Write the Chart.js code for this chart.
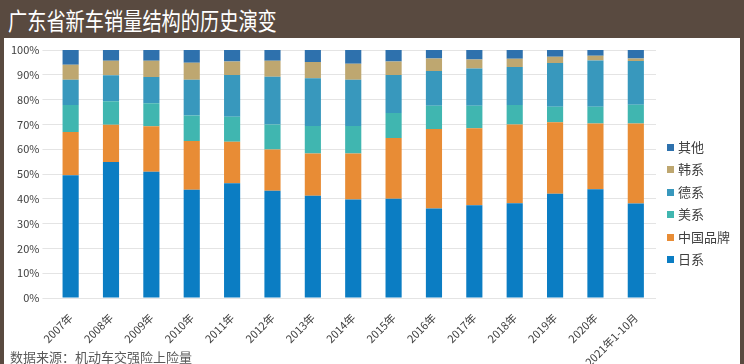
<!DOCTYPE html>
<html>
<head>
<meta charset="utf-8">
<script src="https://cdn.jsdelivr.net/npm/chart.js@4/dist/chart.umd.min.js"></script>
<style>
  body { margin: 0; width: 744px; height: 364px; background: #594a40; overflow: hidden; position: relative; font-family: "Noto Sans CJK SC", sans-serif; }
  #title { position: absolute; left: 8px; top: 4px; height: 32px; line-height: 32px; color: #fff; font-size: 24px; transform: scaleX(0.8); transform-origin: left center; white-space: nowrap; }
  #panel { position: absolute; left: 4px; top: 38px; width: 736px; height: 326px; background: #fff; overflow: hidden; }
  #chart { position: absolute; left: 0; top: 0; }
  #source { position: absolute; left: 6px; bottom: -2px; font-size: 13px; color: #595959; }
  #legend { position: absolute; left: 663px; top: 98px; margin: 0; padding: 0; list-style: none; }
  #legend li { height: 22.4px; line-height: 22.4px; font-size: 13px; color: #404040; white-space: nowrap; }
  #legend span { display: inline-block; width: 7px; height: 7px; margin-right: 4px; vertical-align: middle; position: relative; top: -1px; }
</style>
</head>
<body>
<div id="title">广东省新车销量结构的历史演变</div>
<div id="panel">
  <canvas id="chart" width="736" height="352"></canvas>
  <ul id="legend"></ul>
  <div id="source">数据来源：机动车交强险上险量</div>
</div>
<script>
var years = ["2007年","2008年","2009年","2010年","2011年","2012年","2013年","2014年","2015年","2016年","2017年","2018年","2019年","2020年","2021年1-10月"];

var japan   = [49.5, 54.8, 50.9, 43.6, 46.3, 43.2, 41.2, 39.7, 40.0, 36.1, 37.4, 38.2, 42.0, 43.9, 38.1];
var china   = [17.4, 15.1, 18.4, 19.7, 16.7, 16.7, 17.1, 18.6, 24.5, 32.0, 31.0, 31.8, 28.9, 26.5, 32.3];
var america = [10.9,  9.4,  9.2, 10.3, 10.1, 10.1, 11.1, 11.1, 10.1,  9.4,  9.1,  7.8,  6.2,  6.7,  7.5];
var germany = [10.2, 10.5, 10.6, 14.4, 16.8, 19.2, 19.2, 18.6, 15.3, 14.0, 15.0, 15.3, 17.7, 18.7, 17.7];
var korea   = [ 6.1,  5.9,  6.6,  6.9,  5.5,  6.5,  6.6,  6.5,  5.5,  5.1,  3.7,  3.4,  2.5,  1.9,  1.0];
var other   = [ 5.9,  4.3,  4.3,  5.1,  4.6,  4.3,  4.8,  5.5,  4.6,  3.4,  3.8,  3.5,  2.7,  2.3,  3.4];

function bar(label, data, color){
  return {
    label: label,
    data: data,
    backgroundColor: color,
    borderWidth: 0,
    barPercentage: 0.4,
    categoryPercentage: 1.0
  };
}

var chart = new Chart(document.getElementById('chart'), {
  type: 'bar',
  data: {
    labels: years,
    datasets: [
      bar("日系", japan, '#0b7dc3'),
      bar("中国品牌", china, '#e88c35'),
      bar("美系", america, '#40b6b0'),
      bar("德系", germany, '#3898bd'),
      bar("韩系", korea, '#bea770'),
      bar("其他", other, '#2e71ad')
    ]
  },
  options: {
    responsive: false,
    animation: false,
    layout: { padding: { left: 4, top: 12, right: 84, bottom: 0 } },
    scales: {
      x: {
        stacked: true,
        grid: { display: false },
        border: { display: false },
        // fixed axis height so the plot bottom lands where the reference has it
        afterFit: function(axis){ axis.height = 92; },
        ticks: {
          color: '#404040',
          padding: 5,
          font: { family: "Noto Sans CJK SC", size: 11 },
          minRotation: 45,
          maxRotation: 45,
          autoSkip: false
        }
      },
      y: {
        stacked: true,
        min: 0,
        max: 100,
        grid: { color: '#e4e4e4' },
        border: { display: false },
        ticks: {
          stepSize: 10,
          color: '#404040',
          font: { family: "Noto Sans CJK SC", size: 11 },
          callback: function(v){ return v + '%'; }
        }
      }
    },
    plugins: {
      legend: { display: false },
      tooltip: { enabled: false }
    }
  }
});

// legend drawn as html, top item is the last dataset
var legend = document.getElementById('legend');
for (var i = chart.data.datasets.length - 1; i >= 0; i--){
  var ds = chart.data.datasets[i];
  var li = document.createElement('li');
  li.innerHTML = '<span style="background:' + ds.backgroundColor + '"></span>' + ds.label;
  legend.appendChild(li);
}
</script>
</body>
</html>
